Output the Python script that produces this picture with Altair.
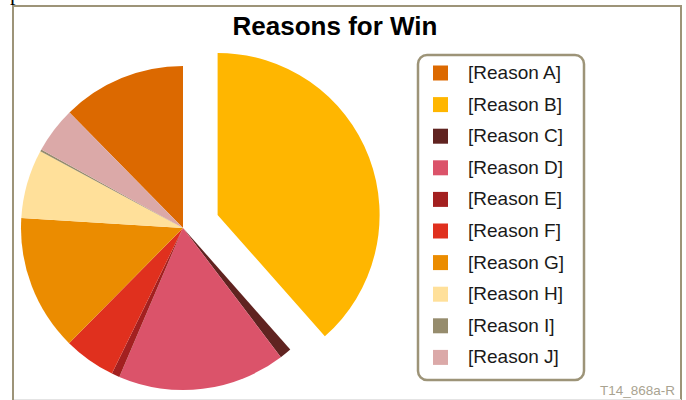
import math
import altair as alt
import pandas as pd

# ---- data ----
reasons = ["[Reason A]", "[Reason B]", "[Reason C]", "[Reason D]", "[Reason E]",
           "[Reason F]", "[Reason G]", "[Reason H]", "[Reason I]", "[Reason J]"]
shares = [12.4, 38.6, 1.2, 16.8, 0.8, 5.2, 13.6, 6.9, 0.2, 4.6]
pie_order = [10, 1, 2, 3, 4, 5, 6, 7, 8, 9]
colors = ["#DC6900", "#FFB600", "#602320", "#DB536A", "#A32020",
          "#E0301E", "#EB8C00", "#FFE09A", "#968C6D", "#DBA9A8"]
title_text = ["Reasons for Win"]
footer_text = ["T14_868a-R"]
stray_text = ["p"]

TOTAL = sum(shares)
FRAME = "#9D9478"
FONT = "Liberation Sans"

df = pd.DataFrame({"reason": reasons, "value": shares, "order": pie_order})

pie = (
    alt.Chart(df)
    .transform_window(cum="sum(value)", sort=[alt.SortField("order")], frame=[None, 0])
    .transform_calculate(
        start="datum.cum - datum.value",
        mid=f"(datum.cum - datum.value / 2) / {TOTAL} * 2 * PI",
        ex="datum.reason === '[Reason B]' ? 37 : 0",
    )
    .transform_calculate(
        cx="170 + datum.ex * sin(datum.mid)",
        cy="222 - datum.ex * cos(datum.mid)",
    )
    .mark_arc(radius=162, stroke=None)
    .encode(
        theta=alt.Theta("start:Q", stack=None,
                        scale=alt.Scale(domain=[0, TOTAL], range=[0, 2 * math.pi])),
        theta2="cum:Q",
        x=alt.X("cx:Q", scale=None, axis=None),
        y=alt.Y("cy:Q", scale=None, axis=None),
        color=alt.Color(
            "reason:N",
            scale=alt.Scale(domain=reasons, range=colors),
            legend=alt.Legend(
                title=None,
                orient="none",
                legendX=418,
                legendY=57.5,
                symbolType="square",
                symbolSize=225,
                symbolStrokeWidth=0,
                labelFont=FONT,
                labelFontSize=19,
                labelColor="#1a1a1a",
                labelOffset=18,
                rowPadding=11.6,
                padding=0,
                labelLimit=300,
            ),
        ),
    )
)

frame = alt.Chart(pd.DataFrame({"a": [0]})).mark_rect(
    fill=None, stroke=FRAME, strokeWidth=2
).encode(x=alt.value(0), x2=alt.value(668), y=alt.value(0), y2=alt.value(420))

bottom_line = alt.Chart(pd.DataFrame({"a": [0]})).mark_rule(
    color="#E4E4E4", strokeWidth=1
).encode(x=alt.value(1), x2=alt.value(668), y=alt.value(393.5))

legend_box = alt.Chart(pd.DataFrame({"a": [0]})).mark_rect(
    fill=None, stroke=FRAME, strokeWidth=2.5, cornerRadius=9
).encode(x=alt.value(405), x2=alt.value(571), y=alt.value(49), y2=alt.value(374))

title = alt.Chart(pd.DataFrame({"t": title_text})).mark_text(
    font=FONT, fontSize=26, fontWeight="bold", color="#000000", align="center",
    baseline="alphabetic"
).encode(text="t:N", x=alt.value(322), y=alt.value(29))

footer = alt.Chart(pd.DataFrame({"t": footer_text})).mark_text(
    font=FONT, fontSize=13.5, color="#A9A391", align="right", baseline="alphabetic"
).encode(text="t:N", x=alt.value(662), y=alt.value(389))

stray = alt.Chart(pd.DataFrame({"t": stray_text})).mark_text(
    font="Liberation Serif", fontSize=22, color="#000000", align="left",
    baseline="alphabetic"
).encode(text="t:N", x=alt.value(-3), y=alt.value(-6.5))

chart = (
    alt.layer(frame, bottom_line, legend_box, pie, title, footer, stray)
    .properties(
        width=668,
        height=394,
        padding={"left": 13, "top": 6, "right": 5, "bottom": 0},
        autosize=alt.AutoSizeParams(type="none"),
        background="white",
    )
    .configure_view(stroke=None)
)

chart.save("out.html", embed_options={"renderer": "svg", "actions": False})
